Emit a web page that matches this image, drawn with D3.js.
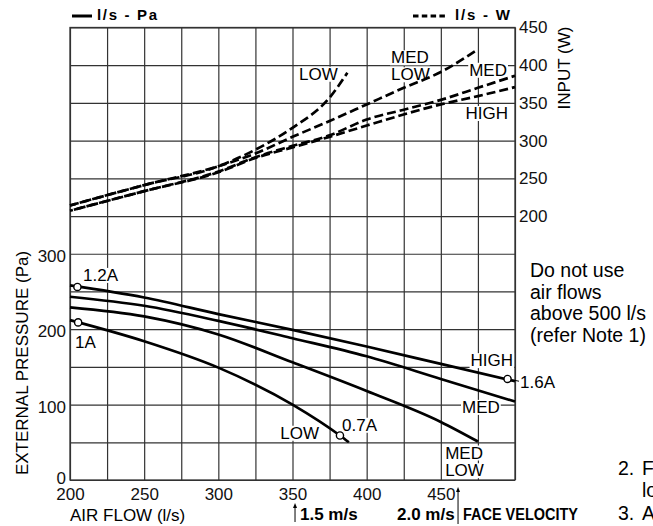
<!DOCTYPE html>
<html>
<head>
<meta charset="utf-8">
<script src="https://cdnjs.cloudflare.com/ajax/libs/d3/7.8.5/d3.min.js"></script>
<style>
  body { margin: 0; background: #fff; }
  svg { display: block; font-family: "Liberation Sans", Arial, sans-serif; }
</style>
</head>
<body>
<svg id="chart" width="653" height="526"></svg>
<script>
// axis ticks
const flowTicks = [200, 250, 300, 350, 400, 450];
const pressureTicks = [0, 100, 200, 300];
const inputTicks = [200, 250, 300, 350, 400, 450];

// l/s - Pa (solid)
const paHighFlow = [200, 250, 300, 350, 400, 450, 500];
const paHigh = [258, 242, 220, 199, 177, 154, 131];
const paMedFlow = [200, 250, 300, 350, 400, 450, 500];
const paMed = [243, 231, 211, 188, 164, 134, 104];
const paMedLowFlow = [200, 250, 300, 350, 400, 450, 475];
const paMedLow = [229, 217, 193, 156, 118, 77, 51];
const paLowFlow = [200, 250, 300, 350, 382, 388];
const paLow = [212, 184, 149, 100, 59, 50];

// l/s - W (dashed)
const wLowFlow = [200, 250, 300, 325, 350, 375, 387];
const wLow = [214, 241, 266, 288, 317, 357, 390];
const wMedLowFlow = [200, 250, 300, 325, 350, 375, 400, 425, 450, 475];
const wMedLow = [214, 241, 266, 283, 305, 326, 348, 370, 391, 421];
const wMedFlow = [200, 250, 300, 325, 350, 375, 400, 425, 450, 475, 500];
const wMed = [207, 233, 259, 278, 293, 307, 328, 341, 354, 370, 386];
const wHighFlow = [200, 250, 300, 325, 350, 375, 400, 450, 475, 500];
const wHigh = [207, 233, 258, 277, 291, 305, 320, 348, 359, 371];

// current markers [flow, Pa, label]
const ampMarks = [[205, 256, "1.2A"], [205.5, 209, "1A"], [495, 134, "1.6A"], [382, 59, "0.7A"]];

// curve labels [text, flow, value, anchor]
const paLabels = [
  ["1.2A", 208.8, 264, "start"], ["1A", 203.4, 174.5, "start"],
  ["HIGH", 498.7, 151, "end"], ["MED", 477, 89, "middle"],
  ["0.7A", 383.4, 65.3, "start"], ["LOW", 367.9, 54.7, "end"],
  ["MED", 452.9, 28.5, "start"], ["LOW", 452.9, 5, "start"]
];
const wLabels = [
  ["LOW", 354.4, 380.7, "start"], ["MED", 416.4, 402.5, "start"], ["LOW", 416.4, 380, "start"],
  ["MED", 494.6, 386, "end"], ["HIGH", 495.3, 328.7, "end"]
];

const noteLines = ["Do not use", "air flows", "above 500 l/s", "(refer Note 1)"];

const svg = d3.select('#chart');
const plotLeft = 70, plotRight = 515, plotTop = 27.5, plotBottom = 480;

const x = d3.scaleLinear().domain([200, 500]).range([plotLeft, plotRight]);
const yPa = d3.scaleLinear().domain([0, 600]).range([plotBottom, plotTop]);
const yW = d3.scaleLinear().domain([-150, 450]).range([plotBottom, plotTop]);

svg.append('rect').attr('width', 653).attr('height', 526).attr('fill', '#fff');

// grid
svg.append('g')
  .attr('transform', `translate(0,${plotBottom})`)
  .call(d3.axisBottom(x).tickValues(d3.range(200, 501, 25)).tickSize(-(plotBottom - plotTop)).tickFormat(''))
  .call(g => g.select('.domain').remove())
  .selectAll('line').attr('stroke', '#333').attr('stroke-width', 1.2);
svg.append('g')
  .attr('transform', `translate(${plotLeft},0)`)
  .call(d3.axisLeft(yPa).tickValues(d3.range(0, 601, 50)).tickSize(-(plotRight - plotLeft)).tickFormat(''))
  .call(g => g.select('.domain').remove())
  .selectAll('line').attr('stroke', '#333').attr('stroke-width', 1.2);
svg.append('rect')
  .attr('x', plotLeft).attr('y', plotTop)
  .attr('width', plotRight - plotLeft).attr('height', plotBottom - plotTop)
  .attr('fill', 'none').attr('stroke', '#333').attr('stroke-width', 1.3);

// axes labels
function styleAxis(g) {
  g.select('.domain').remove();
  g.selectAll('text').attr('font-size', 17).attr('fill', '#111')
    .attr('font-family', '"Liberation Sans", Arial, sans-serif');
}
svg.append('g').attr('transform', `translate(${plotLeft},0)`)
  .call(d3.axisLeft(yPa).tickValues(pressureTicks).tickSize(0).tickPadding(4)).call(styleAxis)
  .selectAll('text').attr('dy', d => d === 0 ? '0.18em' : '0.45em');
svg.append('g').attr('transform', `translate(${plotRight},0)`)
  .call(d3.axisRight(yW).tickValues(inputTicks).tickSize(0).tickPadding(4)).call(styleAxis);
svg.append('g').attr('transform', `translate(0,${plotBottom})`)
  .call(d3.axisBottom(x).tickValues(flowTicks).tickSize(0).tickPadding(8)).call(styleAxis);

svg.append('text').attr('transform', 'translate(28,363) rotate(-90)')
  .attr('text-anchor', 'middle').attr('font-size', 17).text('EXTERNAL PRESSURE (Pa)');
svg.append('text').attr('transform', 'translate(570,68) rotate(-90)')
  .attr('text-anchor', 'middle').attr('font-size', 17).text('INPUT (W)');
svg.append('text').attr('x', 70).attr('y', 521).attr('font-size', 17).text('AIR FLOW (l/s)');

// curve labels, with white backing so grid lines break around them
const bgLayer = svg.append('g');
const curves = svg.append('g');
const labelLayer = svg.append('g');
function addLabel(t, px, py, anchor) {
  const el = labelLayer.append('text')
    .attr('x', px).attr('y', py)
    .attr('text-anchor', anchor)
    .attr('font-size', 17)
    .text(t);
  const b = el.node().getBBox();
  bgLayer.append('rect')
    .attr('x', b.x - 1).attr('y', b.y + 2)
    .attr('width', b.width + 2).attr('height', b.height - 4)
    .attr('fill', '#fff');
}
paLabels.forEach(d => addLabel(d[0], x(d[1]), yPa(d[2]), d[3]));
wLabels.forEach(d => addLabel(d[0], x(d[1]), yW(d[2]), d[3]));

// curves
const linePa = d3.line().x(d => x(d[0])).y(d => yPa(d[1])).curve(d3.curveMonotoneX);
const lineW = d3.line().x(d => x(d[0])).y(d => yW(d[1])).curve(d3.curveMonotoneX);

[[paHighFlow, paHigh], [paMedFlow, paMed], [paMedLowFlow, paMedLow], [paLowFlow, paLow]].forEach(s => {
  curves.append('path')
    .attr('d', linePa(d3.zip(s[0], s[1])))
    .attr('fill', 'none').attr('stroke', '#000').attr('stroke-width', 2.7);
});
[[wLowFlow, wLow], [wMedLowFlow, wMedLow], [wMedFlow, wMed], [wHighFlow, wHigh]].forEach((s, i) => {
  curves.append('path')
    .attr('d', lineW(d3.zip(s[0], s[1])))
    .attr('fill', 'none').attr('stroke', '#000').attr('stroke-width', 2.7)
    .attr('stroke-dasharray', '9,4')
    .attr('stroke-dashoffset', i * 3);
});

// 1.6A connector
curves.append('line')
  .attr('x1', x(495)).attr('y1', yPa(134)).attr('x2', 519).attr('y2', yPa(131))
  .attr('stroke', '#000').attr('stroke-width', 1);
svg.append('text').attr('x', 520).attr('y', 388).attr('font-size', 17).text('1.6A');

curves.selectAll('circle.amp')
  .data(ampMarks)
  .join('circle')
  .attr('class', 'amp')
  .attr('cx', d => x(d[0]))
  .attr('cy', d => yPa(d[1]))
  .attr('r', 3.6)
  .attr('fill', '#fff').attr('stroke', '#000').attr('stroke-width', 1.4);

// legend
svg.append('line').attr('x1', 72).attr('x2', 92).attr('y1', 16).attr('y2', 16)
  .attr('stroke', '#000').attr('stroke-width', 3);
svg.append('text').attr('x', 97).attr('y', 20).attr('font-size', 15).attr('font-weight', 'bold')
  .attr('textLength', 60).text('l/s - Pa');
svg.append('line').attr('x1', 413).attr('x2', 445).attr('y1', 16).attr('y2', 16)
  .attr('stroke', '#000').attr('stroke-width', 3).attr('stroke-dasharray', '5.5,3.3');
svg.append('text').attr('x', 455).attr('y', 20).attr('font-size', 15).attr('font-weight', 'bold')
  .attr('textLength', 55).text('l/s - W');

// face velocity
function arrow(flow, y1, y2) {
  const ax = x(flow);
  svg.append('line').attr('x1', ax).attr('x2', ax).attr('y1', y2).attr('y2', y1 + 3)
    .attr('stroke', '#000').attr('stroke-width', 1);
  svg.append('path').attr('d', `M${ax},${y1} l-2,5 l4,0 z`).attr('fill', '#000');
}
arrow(351.7, 503, 522);
arrow(461.6, 487, 524);
svg.append('text').attr('x', 300).attr('y', 520).attr('font-size', 17).attr('font-weight', 'bold').text('1.5 m/s');
svg.append('text').attr('x', 397).attr('y', 520).attr('font-size', 17).attr('font-weight', 'bold').text('2.0 m/s');
svg.append('text').attr('x', 463).attr('y', 520).attr('font-size', 16).attr('font-weight', 'bold')
  .attr('textLength', 115).attr('lengthAdjust', 'spacingAndGlyphs').text('FACE VELOCITY');

// notes
svg.append('g').selectAll('text')
  .data(noteLines)
  .join('text')
  .attr('x', 530)
  .attr('y', (d, i) => 277 + i * 21.5)
  .attr('font-size', 19.5)
  .text(d => d);
svg.append('text').attr('x', 618).attr('y', 475).attr('font-size', 19.5).text('2.');
svg.append('text').attr('x', 642).attr('y', 475).attr('font-size', 19.5).text('F');
svg.append('text').attr('x', 642).attr('y', 497).attr('font-size', 19.5).text('lo');
svg.append('text').attr('x', 618).attr('y', 520).attr('font-size', 19.5).text('3.');
svg.append('text').attr('x', 642).attr('y', 520).attr('font-size', 19.5).text('A');
</script>
</body>
</html>
